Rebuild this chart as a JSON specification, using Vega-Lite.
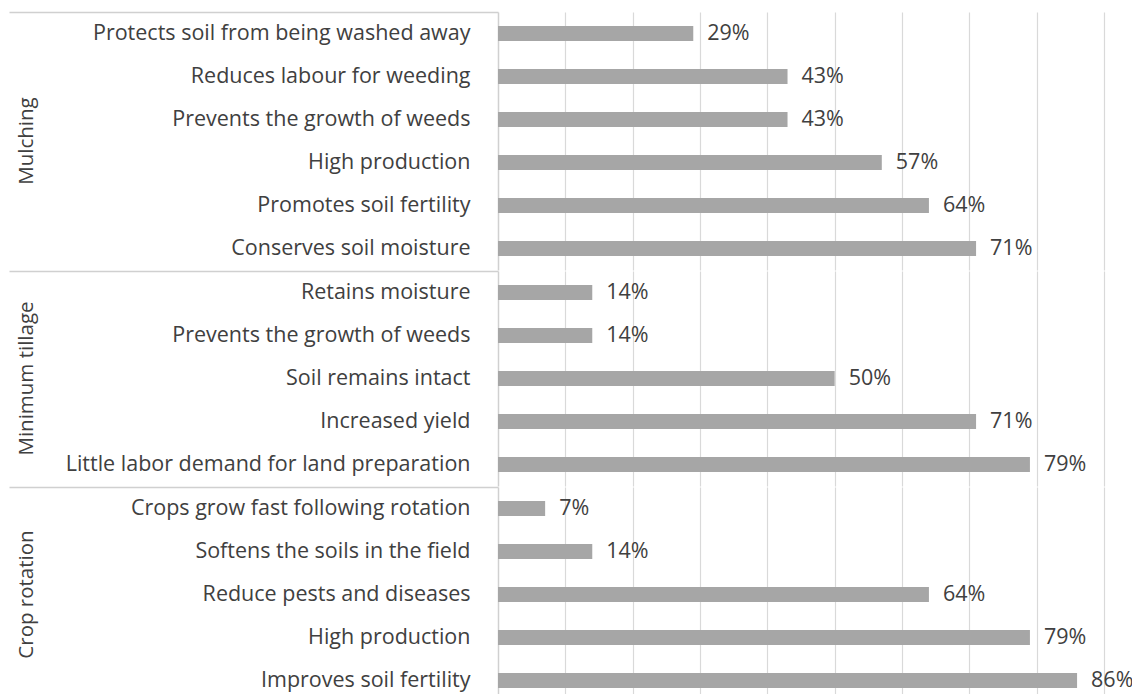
{
  "$schema": "https://vega.github.io/schema/vega-lite/v6.json",
  "padding": {"left": 8, "top": 11, "right": 5, "bottom": 0},
  "background": "white",
  "data": {
    "values": [
      {"group": "Mulching", "item": "Protects soil from  being washed away", "value": 0.29},
      {"group": "Mulching", "item": "Reduces labour for weeding", "value": 0.43},
      {"group": "Mulching", "item": "Prevents the growth of weeds", "value": 0.43},
      {"group": "Mulching", "item": "High production", "value": 0.57},
      {"group": "Mulching", "item": "Promotes soil fertility", "value": 0.64},
      {"group": "Mulching", "item": "Conserves soil moisture", "value": 0.71},
      {"group": "Minimum tillage", "item": "Retains moisture", "value": 0.14},
      {"group": "Minimum tillage", "item": "Prevents the growth of weeds", "value": 0.14},
      {"group": "Minimum tillage", "item": "Soil remains intact", "value": 0.50},
      {"group": "Minimum tillage", "item": "Increased yield", "value": 0.71},
      {"group": "Minimum tillage", "item": "Little labor demand for land preparation", "value": 0.79},
      {"group": "Crop rotation", "item": "Crops grow fast following rotation", "value": 0.07},
      {"group": "Crop rotation", "item": "Softens the soils in the field", "value": 0.14},
      {"group": "Crop rotation", "item": "Reduce pests and diseases", "value": 0.64},
      {"group": "Crop rotation", "item": "High production", "value": 0.79},
      {"group": "Crop rotation", "item": "Improves soil fertility", "value": 0.86}
    ]
  },
  "facet": {
    "row": {
      "field": "group",
      "type": "nominal",
      "sort": ["Mulching", "Minimum tillage", "Crop rotation"],
      "header": {
        "title": null,
        "labelAngle": -90,
        "labelOrient": "left",
        "labelAlign": "center",
        "labelFont": "Open Sans",
        "labelFontSize": 20.5,
        "labelColor": "#404040",
        "labelPadding": -39
      }
    }
  },
  "spacing": {"row": 0},
  "resolve": {"scale": {"y": "independent"}},
  "spec": {
    "width": 606,
    "height": {"step": 43},
    "encoding": {
      "y": {
        "field": "item",
        "type": "nominal",
        "sort": null,
        "scale": {"paddingInner": 0, "paddingOuter": 0},
        "axis": {
          "title": null,
          "labelFont": "Open Sans",
          "labelFontSize": 21.5,
          "labelColor": "#404040",
          "labelPadding": -461,
          "labelLimit": 600,
          "bandPosition": 0,
          "tickSize": 489,
          "tickColor": "#d0d0d0",
          "tickWidth": 1.5,
          "tickOpacity": {
            "condition": {
              "test": "indexof(['Protects soil from  being washed away', 'Retains moisture', 'Crops grow fast following rotation'], datum.value) >= 0",
              "value": 1
            },
            "value": 0
          },
          "domainColor": "#d0d0d0",
          "domainWidth": 1.5
        }
      },
      "x": {
        "field": "value",
        "type": "quantitative",
        "scale": {"domain": [0, 0.9], "nice": false},
        "axis": {
          "title": null,
          "labels": false,
          "ticks": false,
          "domain": false,
          "grid": true,
          "minExtent": 0,
          "maxExtent": 0,
          "gridColor": "#d9d9d9",
          "gridWidth": 1.2,
          "values": [0.1, 0.2, 0.3, 0.4, 0.5, 0.6, 0.7, 0.8, 0.9]
        }
      }
    },
    "layer": [
      {"mark": {"type": "bar", "color": "#a6a6a6", "height": {"band": 0.35}}},
      {
        "mark": {"type": "text", "align": "left", "baseline": "middle", "dx": 14, "font": "Open Sans", "fontSize": 21.5, "color": "#404040"},
        "encoding": {"text": {"field": "value", "type": "quantitative", "format": ".0%"}}
      }
    ]
  },
  "config": {"view": {"stroke": null}}
}
